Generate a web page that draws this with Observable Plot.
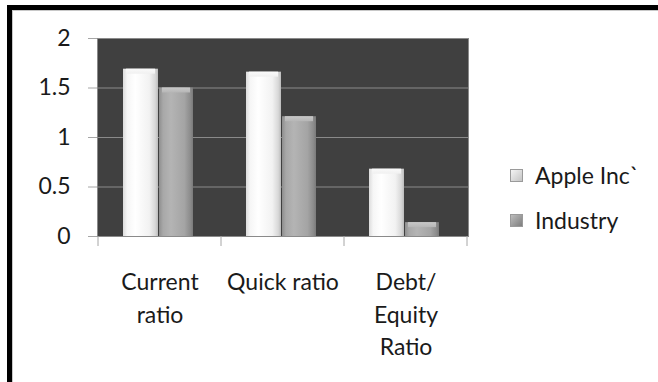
<!DOCTYPE html>
<html><head><meta charset="utf-8">
<script src="https://cdn.jsdelivr.net/npm/d3@7"></script>
<script src="https://cdn.jsdelivr.net/npm/@observablehq/plot@0.6"></script>
<style>
body{margin:0;background:#fff;}
#wrap{position:relative;width:658px;height:382px;overflow:hidden;font-family:Lato,sans-serif;background:#fff;}
#frame{position:absolute;left:7px;top:5px;width:700px;height:420px;border-left:5px solid #000;border-top:5px solid #000;}
#inner{position:absolute;left:12px;top:10px;width:700px;height:420px;border-left:1px solid #c8c8c8;border-top:1px solid #c8c8c8;}
#chart{position:absolute;left:0;top:0;}
.item{position:absolute;left:510px;white-space:nowrap;font-size:23px;line-height:26px;color:#1a1a1a;display:flex;align-items:center;}
.sw{width:13px;height:13px;margin-right:12px;box-sizing:border-box;}
</style></head>
<body>
<div id="wrap">
  <div id="frame"></div>
  <div id="inner"></div>
  <div id="chart"></div>
  <div id="legend"></div>
</div>
<script>
const categories = ["Current\nratio", "Quick ratio", "Debt/\nEquity\nRatio"];
const series = ["Apple Inc`", "Industry"];
const appleValues = [1.69, 1.66, 0.68];
const industryValues = [1.50, 1.21, 0.14];
const yTicks = [0, 0.5, 1, 1.5, 2];

const data = categories.flatMap((c, i) => [
  {cat: c, series: series[0], value: appleValues[i]},
  {cat: c, series: series[1], value: industryValues[i]}
]);
const appleData = data.filter(d => d.series === series[0]);
const industryData = data.filter(d => d.series === series[1]);

function defsMark() {
  const defs = d3.create("svg:defs");
  const grad = (id, stops, vertical) => {
    const g = defs.append("linearGradient").attr("id", id)
      .attr("x1", 0).attr("y1", 0).attr("x2", vertical ? 0 : 1).attr("y2", vertical ? 1 : 0);
    stops.forEach(([o, c]) => g.append("stop").attr("offset", o).attr("stop-color", c));
  };
  grad("gApple", [[0, "#dcdcdc"], [0.12, "#f6f6f6"], [0.35, "#ffffff"], [0.75, "#f2f2f2"], [0.92, "#d8d8d8"], [1, "#bcbcbc"]]);
  grad("gInd", [[0, "#8e8e8e"], [0.12, "#a8a8a8"], [0.35, "#b4b4b4"], [0.75, "#a4a4a4"], [0.92, "#8c8c8c"], [1, "#7a7a7a"]]);
  grad("gTopA", [[0, "#fafafa"], [1, "#f0f0f0"]], true);
  grad("gTopI", [[0, "#c8c8c8"], [1, "#b6b6b6"]], true);
  return defs.node();
}

function xTicksMark(index, scales, values, dimensions) {
  const x = scales.x;
  const xs = categories.map(c => x(c));
  const step = xs[1] - xs[0];
  xs.push(xs[xs.length - 1] + step);
  const y0 = dimensions.height - dimensions.marginBottom;
  const g = d3.create("svg:g");
  g.selectAll("line").data(xs).join("line")
    .attr("x1", d => d).attr("x2", d => d)
    .attr("y1", y0).attr("y2", y0 + 10)
    .attr("stroke", "#a6a6a6");
  return g.node();
}

const chart = Plot.plot({
  width: 658,
  height: 382,
  marginLeft: 97,
  marginRight: 190,
  marginTop: 38,
  marginBottom: 146,
  style: {background: "transparent", fontFamily: "Lato, sans-serif", fontSize: "23px", color: "#1a1a1a", overflow: "visible"},
  x: {domain: categories, padding: 0, axis: null},
  y: {domain: [0, 2], axis: null},
  marks: [
    defsMark,
    Plot.frame({fill: "#404040", stroke: "#8a8a8a"}),
    Plot.gridY(yTicks, {stroke: "#8a8a8a", strokeOpacity: 1}),
    Plot.barY(appleData, {x: "cat", y: "value", fill: "url(#gApple)", insetLeft: 25, insetRight: 63}),
    Plot.barY(industryData, {x: "cat", y: "value", fill: "url(#gInd)", insetLeft: 61, insetRight: 28}),
    Plot.barY(appleData, {x: "cat", y1: "value", y2: "value", insetBottom: -5, fill: "url(#gTopA)", insetLeft: 28, insetRight: 66}),
    Plot.barY(industryData, {x: "cat", y1: "value", y2: "value", insetBottom: -5, fill: "url(#gTopI)", insetLeft: 64, insetRight: 31}),
    Plot.ruleY([0], {stroke: "#8a8a8a"}),
    Plot.axisY(yTicks, {tickSize: 9, tickPadding: 18, stroke: "#a6a6a6", fill: "#1a1a1a", fontSize: 23, label: null, tickFormat: d => String(d)}),
    xTicksMark,
    Plot.text(categories, {x: d => d, text: d => d, frameAnchor: "bottom", lineAnchor: "top", dy: 31, lineHeight: 1.4, fontSize: 23, fill: "#1a1a1a"})
  ]
});
document.getElementById("chart").appendChild(chart);

const legendColors = ["linear-gradient(135deg,#f4f4f4,#c4c4c4)", "linear-gradient(135deg,#bdbdbd,#7e7e7e)"];
const legendTops = [162, 207];
const legend = document.getElementById("legend");
series.forEach((s, i) => {
  const item = document.createElement("div");
  item.className = "item";
  item.style.top = legendTops[i] + "px";
  const sw = document.createElement("span");
  sw.className = "sw";
  sw.style.background = legendColors[i];
  sw.style.border = "1px solid #9a9a9a";
  const t = document.createElement("span");
  t.textContent = s;
  item.appendChild(sw);
  item.appendChild(t);
  legend.appendChild(item);
});
</script>
</body></html>
